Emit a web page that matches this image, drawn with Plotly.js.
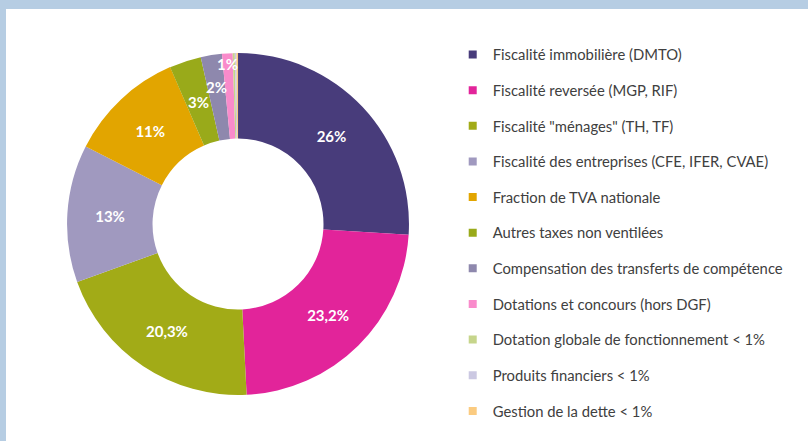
<!DOCTYPE html>
<html><head><meta charset="utf-8">
<script src="https://cdn.plot.ly/plotly-3.0.1.min.js"></script>
<style>
html,body{margin:0;padding:0;background:#b6cde3;width:808px;height:441px;overflow:hidden}
#chart{position:absolute;left:6px;top:9px;width:802px;height:432px;background:#fff}
</style></head><body><div id="chart"></div>
<script>
const categories = [
  "Fiscalité immobilière (DMTO)",
  "Fiscalité reversée (MGP, RIF)",
  "Fiscalité \"ménages\" (TH, TF)",
  "Fiscalité des entreprises (CFE, IFER, CVAE)",
  "Fraction de TVA nationale",
  "Autres taxes non ventilées",
  "Compensation des transferts de compétence",
  "Dotations et concours (hors DGF)",
  "Dotation globale de fonctionnement < 1%",
  "Produits financiers < 1%",
  "Gestion de la dette < 1%"
];
const values = [26, 23.2, 20.3, 13, 11, 3, 2, 1, 0.2, 0.15, 0.15];
const valueLabels = ["26%", "23,2%", "20,3%", "13%", "11%", "3%", "2%", "1%", "", "", ""];
const colors = ["#483c7b", "#e2249a", "#a2ab17", "#a099bf", "#e2a500", "#99aa1a",
                "#8e88ad", "#f98bcb", "#c6d58b", "#cbc8e2", "#fbcb80"];

// style: labels of thin slices are drawn as annotations at these fractions of the outer radius
const thinLabelRadius = {5: 0.75, 6: 0.81, 7: 0.94};

const W = 802, H = 432;
const dom = {x: [0.0761, 0.5025], y: [0.1065, 0.898]};
const R = Math.min((dom.x[1] - dom.x[0]) * W, (dom.y[1] - dom.y[0]) * H) / 2;
const cx = (dom.x[0] + dom.x[1]) / 2, cy = (dom.y[0] + dom.y[1]) / 2;
const labelFont = {family: "Lato, sans-serif", size: 15, color: "#ffffff", weight: "bold"};

const total = values.reduce((a, b) => a + b, 0);
const pieText = [];
const annotations = [];
let cum = 0;
values.forEach((v, i) => {
  const mid = (cum + v / 2) / total * 2 * Math.PI;
  cum += v;
  if (thinLabelRadius[i] !== undefined) {
    pieText.push("");
    const r = R * thinLabelRadius[i];
    annotations.push({
      xref: "paper", yref: "paper",
      x: cx + r * Math.sin(mid) / W, y: cy + r * Math.cos(mid) / H,
      xanchor: "center", yanchor: "middle",
      text: valueLabels[i], showarrow: false, font: labelFont
    });
  } else {
    pieText.push(valueLabels[i]);
  }
});

const traces = [{
  type: "pie",
  labels: categories,
  values: values,
  text: pieText,
  textinfo: "text",
  textposition: "inside",
  insidetextorientation: "horizontal",
  insidetextfont: labelFont,
  hole: 0.5,
  sort: false,
  direction: "clockwise",
  rotation: 0,
  marker: {colors: colors, line: {width: 0}},
  showlegend: false,
  domain: dom,
  hoverinfo: "label+percent"
}];
categories.forEach((c, i) => {
  traces.push({
    type: "scatter", mode: "markers", x: [null], y: [null],
    name: c, legendgroup: "g" + i, showlegend: true,
    marker: {symbol: "square", size: 8, color: colors[i]},
    hoverinfo: "skip"
  });
});

const layout = {
  width: W, height: H,
  margin: {l: 0, r: 0, t: 0, b: 0},
  paper_bgcolor: "#ffffff", plot_bgcolor: "rgba(0,0,0,0)",
  xaxis: {visible: false}, yaxis: {visible: false},
  uniformtext: {mode: "show", minsize: 15},
  annotations: annotations,
  showlegend: true,
  legend: {
    x: 0.557, xanchor: "left", y: 0.932, yanchor: "top",
    font: {family: "Lato, sans-serif", size: 14.8, color: "#404040"},
    bgcolor: "rgba(0,0,0,0)", tracegroupgap: 13.4, traceorder: "grouped"
  }
};
Plotly.newPlot("chart", traces, layout, {displayModeBar: false, staticPlot: true});
</script></body></html>
